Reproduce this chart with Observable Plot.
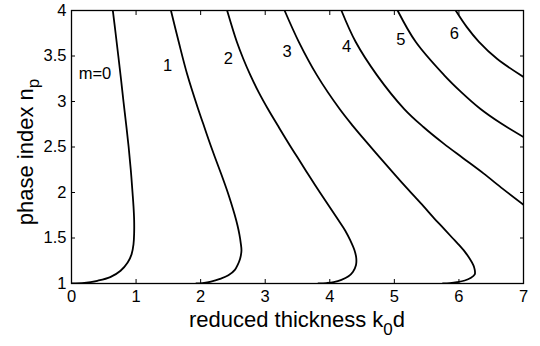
<!DOCTYPE html>
<html><head><meta charset="utf-8">
<script src="https://cdn.jsdelivr.net/npm/d3@7"></script>
<script src="https://cdn.jsdelivr.net/npm/@observablehq/plot@0.6"></script>
<style>
html,body{margin:0;padding:0;background:#fff;}
#chart svg{display:block;}
</style>
</head><body><div id="chart"></div>
<script>
// ---- data ----
const modeNames = ["m=0", "1", "2", "3", "4", "5", "6"];

const m0X = [0, 0.2, 0.4, 0.6, 0.76, 0.87, 0.93, 0.96, 0.97, 0.97, 0.96, 0.945, 0.918, 0.885, 0.846, 0.805, 0.766, 0.725, 0.683, 0.64];
const m0Y = [1, 1.006, 1.03, 1.07, 1.14, 1.23, 1.32, 1.43, 1.55, 1.7, 1.85, 2.0, 2.25, 2.5, 2.75, 3.0, 3.25, 3.5, 3.75, 4.0];

const m1X = [1.93, 2.03, 2.16, 2.30, 2.43, 2.53, 2.57, 2.61, 2.632, 2.62, 2.60, 2.57, 2.525, 2.47, 2.42, 2.32, 2.22, 2.135, 2.04, 1.96, 1.795, 1.66, 1.54];
const m1Y = [1.0, 1.005, 1.02, 1.05, 1.09, 1.15, 1.2, 1.27, 1.36, 1.45, 1.54, 1.64, 1.76, 1.89, 2.0, 2.2, 2.39, 2.557, 2.755, 2.92, 3.29, 3.656, 4.0];

const m2X = [3.82, 3.95, 4.06, 4.18, 4.29, 4.36, 4.405, 4.41, 4.38, 4.32, 4.24, 4.13, 3.99, 3.83, 3.665, 3.55, 3.38, 3.20, 3.04, 2.90, 2.77, 2.66, 2.56, 2.41];
const m2Y = [1.0, 1.005, 1.015, 1.04, 1.08, 1.13, 1.2, 1.28, 1.37, 1.47, 1.58, 1.7, 1.85, 2.02, 2.2, 2.33, 2.52, 2.73, 2.92, 3.1, 3.29, 3.47, 3.656, 4.0];

const m3X = [5.75, 5.86, 5.97, 6.09, 6.18, 6.245, 6.245, 6.225, 6.17, 6.09, 5.985, 5.90, 5.77, 5.60, 5.45, 5.23, 4.99, 4.78, 4.58, 4.36, 4.15, 3.80, 3.52, 3.30];
const m3Y = [1.0, 1.005, 1.015, 1.033, 1.06, 1.1, 1.15, 1.2, 1.27, 1.35, 1.436, 1.5, 1.6, 1.73, 1.85, 2.02, 2.21, 2.38, 2.545, 2.73, 2.92, 3.29, 3.656, 4.0];

const m4X = [4.18, 4.40, 4.73, 5.15, 5.45, 5.76, 6.06, 6.38, 6.68, 7.0];
const m4Y = [4.0, 3.656, 3.29, 2.92, 2.72, 2.54, 2.38, 2.21, 2.04, 1.865];

const m5X = [5.05, 5.33, 5.77, 6.04, 6.33, 6.65, 7.0];
const m5Y = [4.0, 3.656, 3.29, 3.1, 2.92, 2.76, 2.61];

const m6X = [5.95, 6.12, 6.31, 6.59, 7.0];
const m6Y = [4.0, 3.82, 3.656, 3.47, 3.27];

const labelX = [0.364, 1.49, 2.43, 3.34, 4.26, 5.10, 5.93];
const labelY = [3.30, 3.39, 3.47, 3.55, 3.60, 3.68, 3.75];

const xTicks = [0, 1, 2, 3, 4, 5, 6, 7];
const yTicks = [1, 1.5, 2, 2.5, 3, 3.5, 4];

// ---- build tables ----
const curves = [[m0X, m0Y], [m1X, m1Y], [m2X, m2Y], [m3X, m3Y], [m4X, m4Y], [m5X, m5Y], [m6X, m6Y]];
const rows = [];
curves.forEach(([xs, ys], k) => xs.forEach((x, i) => rows.push({m: modeNames[k], x, y: ys[i]})));
const labels = modeNames.map((t, i) => ({t, x: labelX[i], y: labelY[i]}));

const FONT = "'Liberation Sans', Arial, Helvetica, sans-serif";
const TICKFS = 16.5;

const chart = Plot.plot({
  width: 540,
  height: 346,
  marginLeft: 71,
  marginRight: 17,
  marginTop: 10,
  marginBottom: 63,
  style: {fontFamily: FONT, background: "#fff", color: "#000"},
  x: {domain: [0, 7], label: null},
  y: {domain: [1, 4], label: null},
  marks: [
    Plot.line(rows, {x: "x", y: "y", z: "m", curve: "catmull-rom", stroke: "black", strokeWidth: 1.8, clip: true}),
    Plot.text(labels, {x: "x", y: "y", text: "t", fontSize: TICKFS, fill: "black"}),
    Plot.axisX({ticks: xTicks, tickSize: -4, tickPadding: 11, fontSize: TICKFS, tickFormat: d => String(d), label: null, stroke: "black", fill: "black"}),
    Plot.axisX({anchor: "top", ticks: xTicks, tickSize: -4, tickFormat: () => "", label: null, stroke: "black"}),
    Plot.axisY({ticks: yTicks, tickSize: -4, tickPadding: 9, fontSize: TICKFS, tickFormat: d => String(d), label: null, stroke: "black", fill: "black"}),
    Plot.axisY({anchor: "right", ticks: yTicks, tickSize: -4, tickFormat: () => "", label: null, stroke: "black"}),
    Plot.frame({stroke: "black", strokeWidth: 1.3})
  ]
});

document.getElementById("chart").appendChild(chart);

// axis titles with subscripts
const svg = d3.select(chart);
const xl = svg.append("text")
  .attr("x", 297).attr("y", 327)
  .attr("text-anchor", "middle")
  .style("font-family", FONT).style("font-size", "22px").attr("fill", "black");
xl.append("tspan").text("reduced thickness k");
xl.append("tspan").attr("dy", 8).style("font-size", "17px").text("0");
xl.append("tspan").attr("dy", -8).text("d");

const yl = svg.append("text")
  .attr("transform", "translate(33,152) rotate(-90)")
  .attr("text-anchor", "middle")
  .style("font-family", FONT).style("font-size", "22px").attr("fill", "black");
yl.append("tspan").text("phase index n");
yl.append("tspan").attr("dy", 6).style("font-size", "17px").text("p");
</script>
</body></html>
